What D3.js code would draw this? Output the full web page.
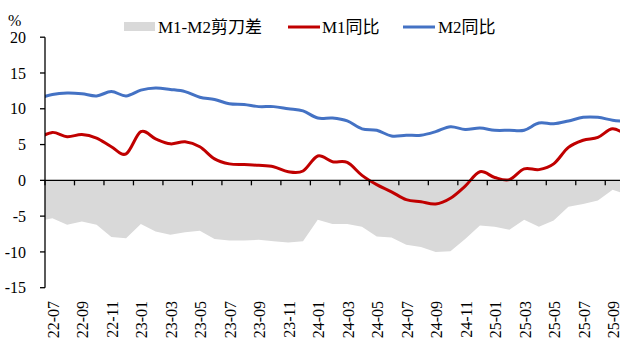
<!DOCTYPE html>
<html>
<head>
<meta charset="utf-8">
<script src="https://cdn.jsdelivr.net/npm/d3@7/dist/d3.min.js"></script>
<style>
  html, body { margin: 0; padding: 0; background: #fff; }
  svg { display: block; }
  text { font-family: "Liberation Serif", "Times New Roman", "Noto Sans CJK SC", serif; fill: #000; }
</style>
</head>
<body>
<svg id="chart" width="630" height="357"></svg>
<script>
// Months (22-06 and 25-10 lie just outside the visible axis and are clipped at the edges)
const months = ["22-06","22-07","22-08","22-09","22-10","22-11","22-12",
  "23-01","23-02","23-03","23-04","23-05","23-06","23-07","23-08","23-09","23-10","23-11","23-12",
  "24-01","24-02","24-03","24-04","24-05","24-06","24-07","24-08","24-09","24-10","24-11","24-12",
  "25-01","25-02","25-03","25-04","25-05","25-06","25-07","25-08","25-09","25-10"];
// Categories shown on the axis
const shownMonths = months.slice(1, 40);
const tickLabels = ["22-07","22-09","22-11","23-01","23-03","23-05","23-07","23-09","23-11",
  "24-01","24-03","24-05","24-07","24-09","24-11","25-01","25-03","25-05","25-07","25-09"];
const yTicks = [-15, -10, -5, 0, 5, 10, 15, 20];

const m1 = [5.8, 6.7, 6.1, 6.4, 5.9, 4.7, 3.7,
  6.8, 5.8, 5.1, 5.4, 4.7, 3.0, 2.3, 2.2, 2.1, 1.9, 1.2, 1.3,
  3.4, 2.6, 2.5, 0.7, -0.6, -1.6, -2.7, -3.0, -3.3, -2.5, -0.8, 1.2,
  0.4, 0.1, 1.6, 1.5, 2.3, 4.6, 5.6, 6.0, 7.2, 6.2];
const m2 = [11.4, 12.0, 12.2, 12.1, 11.8, 12.4, 11.8,
  12.6, 12.9, 12.7, 12.4, 11.6, 11.3, 10.7, 10.6, 10.3, 10.3, 10.0, 9.7,
  8.7, 8.7, 8.3, 7.2, 7.0, 6.2, 6.3, 6.3, 6.8, 7.5, 7.1, 7.3,
  7.0, 7.0, 7.0, 8.0, 7.9, 8.3, 8.8, 8.8, 8.4, 8.2];
const gap = [-5.7, -5.3, -6.2, -5.75, -6.2, -7.9, -8.1,
  -6.1, -7.15, -7.6, -7.25, -7.05, -8.2, -8.4, -8.4, -8.3, -8.5, -8.7, -8.5,
  -5.5, -6.1, -6.1, -6.5, -7.85, -8.0, -9.0, -9.3, -10.0, -9.9, -8.2, -6.3,
  -6.5, -6.9, -5.5, -6.5, -5.6, -3.7, -3.3, -2.8, -1.3, -2.0];

const seriesNames = ["M1-M2剪刀差", "M1同比", "M2同比"];
const colors = { gap: "#D9D9D9", m1: "#C00000", m2: "#4472C4" };

const svg = d3.select("#chart");
const pLeft = 45, pRight = 620, pTop = 37.2, pBottom = 287.7;

const xBand = d3.scaleBand().domain(shownMonths).range([pLeft, pRight]).padding(0);
const bw = xBand.bandwidth();
const xPt = d3.scalePoint().domain(months).range([pLeft - bw / 2, pRight + bw / 2]);
const y = d3.scaleLinear().domain([-15, 20]).range([pBottom, pTop]);

svg.append("defs").append("clipPath").attr("id", "plotclip")
  .append("rect").attr("x", pLeft).attr("y", 0).attr("width", pRight - pLeft).attr("height", 357);

const data = months.map((m, i) => ({ m, m1: m1[i], m2: m2[i], gap: gap[i] }));

const plot = svg.append("g").attr("clip-path", "url(#plotclip)");

// Gap area
plot.append("path")
  .datum(data)
  .attr("fill", colors.gap)
  .attr("d", d3.area().x(d => xPt(d.m)).y0(y(0)).y1(d => y(d.gap)));

// Axes
const axisG = svg.append("g");
axisG.append("line").attr("x1", pLeft).attr("x2", pLeft).attr("y1", pTop).attr("y2", pBottom)
  .attr("stroke", "#000").attr("stroke-width", 1.3);
axisG.selectAll(".yt").data(yTicks).enter().append("line")
  .attr("x1", pLeft - 5).attr("x2", pLeft).attr("y1", d => y(d)).attr("y2", d => y(d))
  .attr("stroke", "#000").attr("stroke-width", 1.3);
axisG.selectAll(".yl").data(yTicks).enter().append("text")
  .attr("x", 26).attr("y", d => y(d)).attr("dy", "0.35em")
  .attr("text-anchor", "end").attr("font-size", 16)
  .text(d => d);
axisG.append("line").attr("x1", pLeft).attr("x2", pRight).attr("y1", y(0)).attr("y2", y(0))
  .attr("stroke", "#000").attr("stroke-width", 1.3);
axisG.selectAll(".xt").data(tickLabels).enter().append("line")
  .attr("x1", d => xBand(d)).attr("x2", d => xBand(d))
  .attr("y1", y(0)).attr("y2", y(0) + 5)
  .attr("stroke", "#000").attr("stroke-width", 1.3);
axisG.selectAll(".xl").data(tickLabels).enter().append("text")
  .attr("transform", d => `translate(${xBand(d) + bw / 2 + 1},${301}) rotate(-90)`)
  .attr("dy", "0.35em")
  .attr("text-anchor", "end").attr("font-size", 16)
  .text(d => d);

// Lines
const smooth = d3.curveCatmullRom.alpha(0);
plot.append("path").datum(data)
  .attr("fill", "none").attr("stroke", colors.m2).attr("stroke-width", 3)
  .attr("stroke-linejoin", "round")
  .attr("d", d3.line().curve(smooth).x(d => xPt(d.m)).y(d => y(d.m2)));
plot.append("path").datum(data)
  .attr("fill", "none").attr("stroke", colors.m1).attr("stroke-width", 3)
  .attr("stroke-linejoin", "round")
  .attr("d", d3.line().curve(smooth).x(d => xPt(d.m)).y(d => y(d.m1)));

// Unit label
svg.append("text").attr("x", 8).attr("y", 26).attr("font-size", 16).text("%");

// Legend
const lg = svg.append("g");
lg.append("rect").attr("x", 124).attr("y", 22).attr("width", 31).attr("height", 9).attr("fill", colors.gap);
lg.append("text").attr("x", 158).attr("y", 33).attr("font-size", 17).text(seriesNames[0]);
lg.append("line").attr("x1", 288).attr("x2", 320).attr("y1", 27).attr("y2", 27)
  .attr("stroke", colors.m1).attr("stroke-width", 3);
lg.append("text").attr("x", 322).attr("y", 33).attr("font-size", 17).text(seriesNames[1]);
lg.append("line").attr("x1", 403).attr("x2", 435).attr("y1", 27).attr("y2", 27)
  .attr("stroke", colors.m2).attr("stroke-width", 3);
lg.append("text").attr("x", 438).attr("y", 33).attr("font-size", 17).text(seriesNames[2]);
</script>
</body>
</html>
